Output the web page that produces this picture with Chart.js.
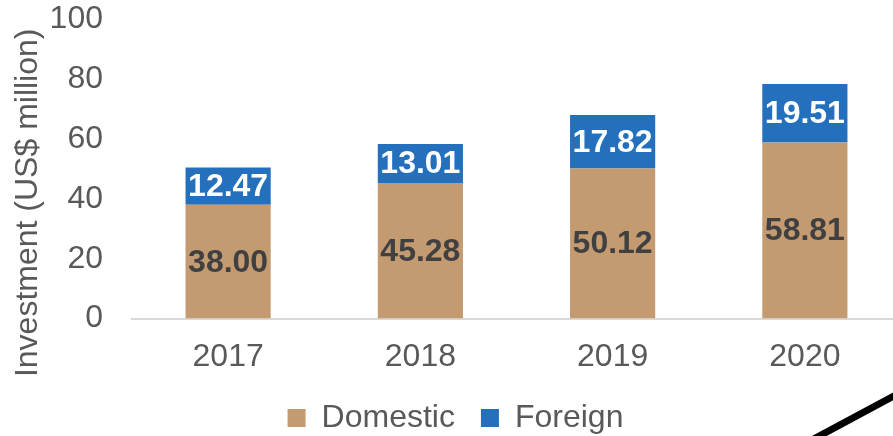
<!DOCTYPE html>
<html>
<head>
<meta charset="utf-8">
<script src="https://cdn.jsdelivr.net/npm/chart.js@4/dist/chart.umd.min.js"></script>
<style>
  html, body { margin: 0; padding: 0; overflow: hidden; background: #fff; }
  #wrap { width: 911px; height: 436px; position: relative; }
</style>
</head>
<body>
<div id="wrap"><canvas id="investChart"></canvas></div>
<script>
const years = ["2017", "2018", "2019", "2020"];
const domestic = [38.00, 45.28, 50.12, 58.81];
const foreign = [12.47, 13.01, 17.82, 19.51];
const yTicks = [0, 20, 40, 60, 80, 100];
const yTitle = "Investment (US$ million)";

const textGray = "#595959";
const fontFamily = "'Liberation Sans', Arial, sans-serif";
Chart.defaults.font.family = fontFamily;
Chart.defaults.font.size = 32;
Chart.defaults.color = textGray;

// numbers inside each stacked segment
const barLabels = {
    id: "barLabels",
    afterDatasetsDraw(chart) {
        const ctx = chart.ctx;
        ctx.save();
        ctx.font = "bold 32px " + fontFamily;
        ctx.textAlign = "center";
        ctx.textBaseline = "middle";
        chart.data.datasets.forEach((ds, i) => {
            const meta = chart.getDatasetMeta(i);
            ctx.fillStyle = ds.labelColor;
            meta.data.forEach((bar, j) => {
                const p = bar.getCenterPoint();
                ctx.fillText(ds.data[j].toFixed(2), p.x, p.y + 1);
            });
        });
        ctx.restore();
    }
};

// y title sits a bit lower than chart.js would centre it, plus the stray stroke
const extras = {
    id: "extras",
    afterDraw(chart) {
        const ctx = chart.ctx;
        const area = chart.chartArea;
        const y = chart.scales.y;
        ctx.save();
        ctx.translate(y.left + 18, (area.top + area.bottom) / 2 + 34);
        ctx.rotate(-Math.PI / 2);
        ctx.font = "32px " + fontFamily;
        ctx.fillStyle = textGray;
        ctx.textAlign = "center";
        ctx.textBaseline = "middle";
        ctx.fillText(yTitle, 0, 0);
        ctx.restore();

        ctx.save();
        ctx.strokeStyle = "#000";
        ctx.lineWidth = 7;
        ctx.beginPath();
        ctx.moveTo(810, 441);
        ctx.lineTo(905, 390);
        ctx.stroke();
        ctx.restore();
    }
};

new Chart(document.getElementById("investChart"), {
    type: "bar",
    data: {
        labels: years,
        datasets: [
            {
                label: "Domestic",
                data: domestic,
                backgroundColor: "#C49B71",
                labelColor: "#404040"
            },
            {
                label: "Foreign",
                data: foreign,
                backgroundColor: "#2470BC",
                labelColor: "#ffffff"
            }
        ]
    },
    options: {
        responsive: true,
        maintainAspectRatio: false,
        animation: false,
        layout: { padding: { left: 10, right: 10, top: 19, bottom: 0 } },
        categoryPercentage: 1,
        barPercentage: 0.443,
        plugins: {
            legend: {
                position: "bottom",
                maxHeight: 60,
                labels: {
                    boxWidth: 18,
                    boxHeight: 18,
                    padding: 26,
                    color: textGray
                }
            },
            tooltip: { enabled: false }
        },
        scales: {
            x: {
                stacked: true,
                grid: { display: false, drawTicks: false },
                border: { color: "#d9d9d9", width: 2 },
                ticks: { padding: 19, color: textGray },
                afterFit(scale) {
                    scale.height = 57.4;
                }
            },
            y: {
                stacked: true,
                min: yTicks[0],
                max: yTicks[yTicks.length - 1],
                grid: { display: false, drawTicks: false },
                border: { display: false },
                ticks: { stepSize: 20, padding: 29, color: textGray },
                afterBuildTicks(scale) {
                    scale.ticks = yTicks.map(v => ({ value: v }));
                },
                afterFit(scale) {
                    scale.width = 122;
                    scale.paddingTop = 0;
                    scale.paddingBottom = 0;
                }
            }
        }
    },
    plugins: [barLabels, extras]
});
</script>
</body>
</html>
